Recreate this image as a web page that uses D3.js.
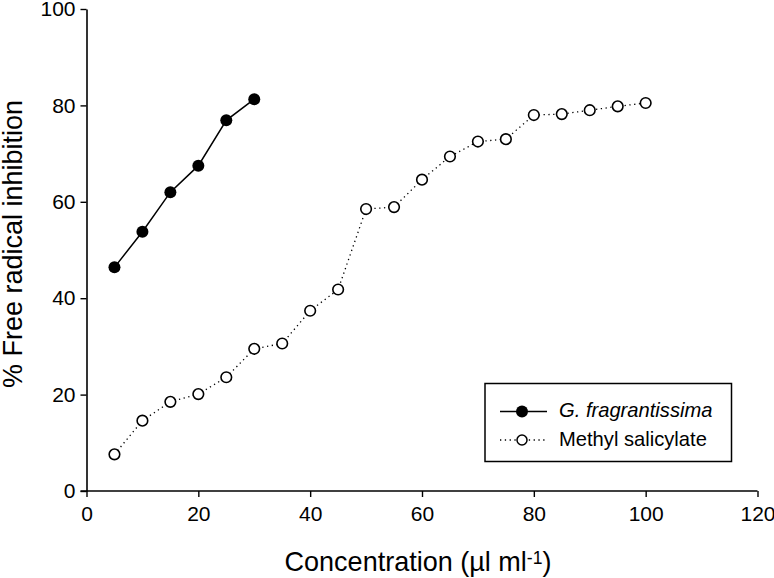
<!DOCTYPE html>
<html><head><meta charset="utf-8">
<script src="https://cdn.jsdelivr.net/npm/d3@7"></script>
<style>body{margin:0;background:#fff}svg{display:block}text{font-family:"Liberation Sans",Arial,sans-serif;fill:#000}</style>
</head><body><svg id="c" width="774" height="578"></svg>
<script>
const gfConc = [5, 10, 15, 20, 25, 30];
const gfVals = [46.4, 53.8, 62.0, 67.5, 76.9, 81.3];
const msConc = [5, 10, 15, 20, 25, 30, 35, 40, 45, 50, 55, 60, 65, 70, 75, 80, 85, 90, 95, 100];
const msVals = [7.6, 14.6, 18.5, 20.1, 23.6, 29.5, 30.6, 37.4, 41.8, 58.5, 58.9, 64.6, 69.4, 72.5, 73.0, 78.0, 78.2, 79.0, 79.8, 80.5];
const xTicks = [0, 20, 40, 60, 80, 100, 120];
const yTicks = [0, 20, 40, 60, 80, 100];
const seriesNames = ["G. fragrantissima", "Methyl salicylate"];

const svg = d3.select("#c");
const x = d3.scaleLinear().domain([0, 120]).range([86.5, 757.5]);
const y = d3.scaleLinear().domain([0, 100]).range([491, 9]);

function fit(sel, target, base) {
  sel.style("font-size", base + "px");
  const w = sel.node().getComputedTextLength();
  if (w > 0) sel.style("font-size", (base * target / w).toFixed(2) + "px");
  return sel;
}

const xAx = svg.append("g").attr("transform", "translate(0,491)")
  .call(d3.axisBottom(x).tickValues(xTicks).tickSize(6).tickPadding(9).tickSizeOuter(0));
const yAx = svg.append("g").attr("transform", "translate(86.5,0)")
  .call(d3.axisLeft(y).tickValues(yTicks).tickSize(6).tickPadding(5).tickSizeOuter(0));
[xAx, yAx].forEach(a => {
  a.select(".domain").attr("stroke", "#000").attr("stroke-width", 1.6);
  a.selectAll(".tick line").attr("stroke", "#000").attr("stroke-width", 1.4);
  a.selectAll(".tick text").style("font-size", "21px").attr("fill", "#000")
   .style("font-family", "'Liberation Sans',Arial,sans-serif");
});
xAx.select(".domain").attr("d", `M${x(0)-6},0H${x(120)}`);

const xt = svg.append("text").attr("x", 418).attr("y", 571).attr("text-anchor", "middle")
  .html('Concentration (µl ml<tspan dy="-0.42em" font-size="0.65em">-1</tspan><tspan dy="0.27em">)</tspan>');
fit(xt, 267, 22);
const yt = svg.append("text").attr("transform", "translate(21.5,244) rotate(-90)").attr("text-anchor", "middle")
  .text("% Free radical inhibition");
fit(yt, 288, 22);

const line = d3.line().x(d => x(d[0])).y(d => y(d[1]));
const ms = msConc.map((c, i) => [c, msVals[i]]);
const gf = gfConc.map((c, i) => [c, gfVals[i]]);

svg.append("path").datum(ms).attr("d", line).attr("fill", "none").attr("stroke", "#000")
  .attr("stroke-width", 1.3).attr("stroke-dasharray", "1.3,3.5");
svg.selectAll(".ms").data(ms).enter().append("circle")
  .attr("cx", d => x(d[0])).attr("cy", d => y(d[1])).attr("r", 5.3)
  .attr("fill", "#fff").attr("stroke", "#000").attr("stroke-width", 1.6);

svg.append("path").datum(gf).attr("d", line).attr("fill", "none").attr("stroke", "#000").attr("stroke-width", 1.5);
svg.selectAll(".gf").data(gf).enter().append("circle")
  .attr("cx", d => x(d[0])).attr("cy", d => y(d[1])).attr("r", 6).attr("fill", "#000");

// legend
const lg = svg.append("g");
lg.append("rect").attr("x", 485).attr("y", 383.5).attr("width", 246.5).attr("height", 78)
  .attr("fill", "#fff").attr("stroke", "#000").attr("stroke-width", 1.5);
lg.append("line").attr("x1", 500).attr("x2", 547).attr("y1", 411.5).attr("y2", 411.5)
  .attr("stroke", "#000").attr("stroke-width", 1.5);
lg.append("circle").attr("cx", 522).attr("cy", 411.5).attr("r", 6).attr("fill", "#000");
lg.append("line").attr("x1", 500).attr("x2", 547).attr("y1", 440).attr("y2", 440)
  .attr("stroke", "#000").attr("stroke-width", 1.3).attr("stroke-dasharray", "1.3,3.5");
lg.append("circle").attr("cx", 522).attr("cy", 440).attr("r", 5).attr("fill", "#fff")
  .attr("stroke", "#000").attr("stroke-width", 1.5);
const t2 = lg.append("text").attr("x", 559).attr("y", 445.5).text(seriesNames[1]);
fit(t2, 148, 18);
const fs = t2.style("font-size");
lg.append("text").attr("x", 559).attr("y", 417).style("font-size", fs).style("font-style", "italic").text(seriesNames[0]);
</script></body></html>
